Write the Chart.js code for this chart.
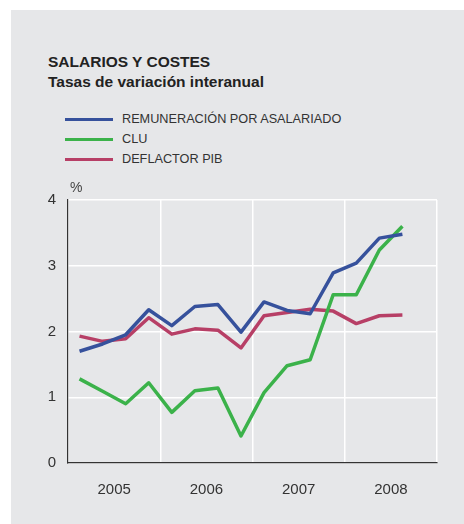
<!DOCTYPE html>
<html lang="es">
<head>
<meta charset="UTF-8">
<title>Salarios y costes</title>
<script src="https://cdn.jsdelivr.net/npm/chart.js"></script>
<style>
  body { margin: 0; background: #fff; font-family: "Liberation Sans", Arial, sans-serif; }
  #panel { position: absolute; left: 11px; top: 10px; width: 453px; height: 514px; background: #e6e7e9; }
  #titulo { position: absolute; left: 48px; top: 52px; font-size: 15.5px; font-weight: bold; color: #222; line-height: 20px; }
  #leyenda { position: absolute; left: 65px; top: 109px; font-size: 12.7px; color: #333; }
  .item { height: 20px; display: flex; align-items: center; }
  .item span { display: inline-block; width: 48px; height: 3px; margin-right: 9px; }
  #wrap { position: absolute; left: 0; top: 0; }
</style>
</head>
<body>
<div id="panel"></div>
<div id="titulo">SALARIOS Y COSTES<br>Tasas de variación interanual</div>
<div id="leyenda"></div>
<div id="wrap"><canvas id="grafico" width="464" height="524"></canvas></div>
<script>
// datos trimestrales, 2005 I a 2008 III
const trimestres = ['2005 I','2005 II','2005 III','2005 IV','2006 I','2006 II','2006 III','2006 IV',
                    '2007 I','2007 II','2007 III','2007 IV','2008 I','2008 II','2008 III'];
const remuneracion = [1.70, 1.81, 1.95, 2.33, 2.09, 2.38, 2.41, 1.99, 2.45, 2.32, 2.27, 2.89, 3.04, 3.42, 3.48];
const clu          = [1.28, 1.09, 0.90, 1.22, 0.77, 1.10, 1.14, 0.41, 1.07, 1.48, 1.57, 2.56, 2.56, 3.24, 3.60];
const deflactor    = [1.93, 1.85, 1.89, 2.21, 1.96, 2.04, 2.02, 1.75, 2.24, 2.29, 2.34, 2.31, 2.12, 2.24, 2.25];
const anios = ['2005', '2006', '2007', '2008'];
const ticksY = [0, 1, 2, 3, 4];

const series = [
  { label: 'REMUNERACIÓN POR ASALARIADO', valores: remuneracion, color: '#36519c' },
  { label: 'CLU', valores: clu, color: '#3bb24a' },
  { label: 'DEFLACTOR PIB', valores: deflactor, color: '#b73f66' }
];

// leyenda en html
const leyenda = document.getElementById('leyenda');
series.forEach(s => {
  const d = document.createElement('div');
  d.className = 'item';
  d.innerHTML = '<span style="background:' + s.color + '"></span>' + s.label;
  leyenda.appendChild(d);
});

// eje x lineal: cada trimestre ocupa una unidad, el punto va en el centro
const puntos = vals => vals.map((v, i) => ({ x: i + 0.5, y: v, t: trimestres[i] }));

const signoPct = {
  id: 'signoPct',
  afterDraw(chart) {
    const c = chart.ctx, a = chart.chartArea;
    c.save();
    c.font = '14px "Liberation Sans", Arial, sans-serif';
    c.fillStyle = '#444';
    c.textBaseline = 'middle';
    c.fillText('%', a.left + 2, a.top - 12);
    c.restore();
  }
};

new Chart(document.getElementById('grafico'), {
  type: 'line',
  data: {
    datasets: series.map(s => ({
      label: s.label,
      data: puntos(s.valores),
      borderColor: s.color,
      backgroundColor: s.color,
      borderWidth: 3.5,
      pointRadius: 0,
      tension: 0,
      borderJoinStyle: 'round'
    }))
  },
  options: {
    responsive: false,
    animation: false,
    layout: { padding: { left: 40, right: 27, top: 200, bottom: 21 } },
    plugins: { legend: { display: false }, tooltip: { enabled: false } },
    scales: {
      x: {
        type: 'linear',
        min: 0,
        max: trimestres.length + 1,
        afterBuildTicks: axis => {
          axis.ticks = [];
          for (let v = 0; v <= 16; v += 2) axis.ticks.push({ value: v });
        },
        afterFit: axis => { axis.height = 40; },
        grid: {
          drawTicks: false,
          color: ctx => (ctx.tick && ctx.tick.value % 4 === 0) ? '#ffffff' : 'rgba(0,0,0,0)',
          lineWidth: 1.5
        },
        border: { display: true, color: '#333', width: 1.2 },
        ticks: {
          padding: 18,
          color: '#333',
          font: { size: 15, family: '"Liberation Sans", Arial, sans-serif' },
          callback: v => (v % 4 === 2) ? anios[(v - 2) / 4] : ''
        }
      },
      y: {
        min: 0,
        max: 4,
        afterBuildTicks: axis => { axis.ticks = ticksY.map(v => ({ value: v })); },
        afterFit: axis => { axis.width = 28; },
        grid: { drawTicks: false, color: '#ffffff', lineWidth: 1.5 },
        border: { display: true, color: '#333', width: 1.2 },
        ticks: {
          padding: 12,
          color: '#333',
          font: { size: 15, family: '"Liberation Sans", Arial, sans-serif' }
        }
      }
    }
  },
  plugins: [signoPct]
});
</script>
</body>
</html>
